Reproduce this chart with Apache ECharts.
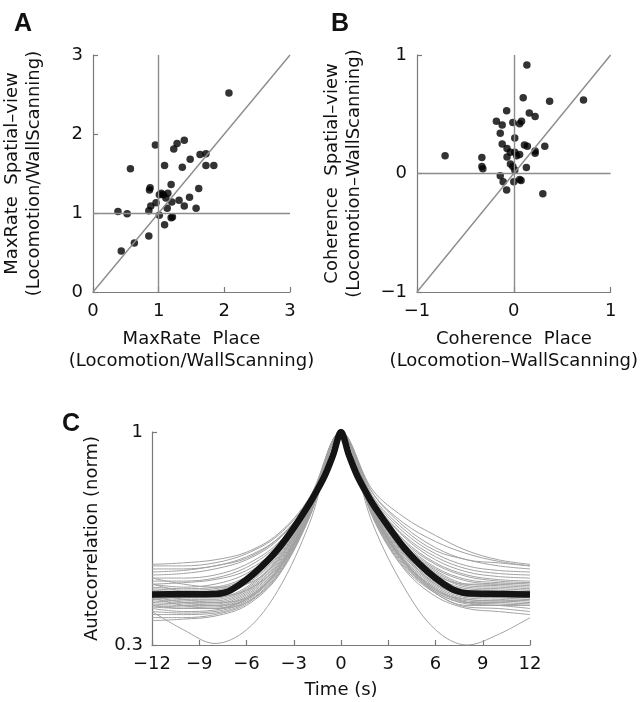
<!DOCTYPE html>
<html>
<head>
<meta charset="utf-8">
<script src="https://cdn.jsdelivr.net/npm/echarts@6/dist/echarts.min.js"></script>
<style>
html, body { margin: 0; padding: 0; background: #fff; }
#main { width: 640px; height: 702px; }
</style>
</head>
<body>
<div id="main"></div>
<script>
// panel A: max rate, place (x) vs spatial-view (y)
var rateA = [
  [2.07, 2.52], [0.95, 1.86], [1.28, 1.88], [1.39, 1.92], [1.23, 1.81],
  [0.57, 1.56], [1.09, 1.60], [1.36, 1.58], [1.48, 1.68], [1.63, 1.74],
  [1.72, 1.75], [1.72, 1.60], [1.84, 1.60], [1.19, 1.36], [0.87, 1.32],
  [0.86, 1.29], [1.61, 1.31], [1.01, 1.23], [1.07, 1.23], [1.14, 1.25],
  [1.11, 1.19], [1.20, 1.14], [1.31, 1.16], [1.47, 1.20], [0.96, 1.13],
  [0.88, 1.09], [0.85, 1.03], [1.13, 1.06], [1.39, 1.09], [1.57, 1.06],
  [0.38, 1.02], [0.52, 0.99], [1.01, 0.97], [1.19, 0.94], [1.21, 0.95],
  [1.09, 0.85], [0.85, 0.71], [0.63, 0.62], [0.43, 0.52], [1.04, 1.25]
];
// panel B: coherence, place (x) vs spatial-view (y)
var cohB = [
  [0.135, 0.915], [0.097, 0.64], [0.37, 0.61], [0.72, 0.62], [-0.074, 0.53],
  [0.16, 0.51], [0.22, 0.48], [-0.18, 0.44], [-0.12, 0.41], [-0.01, 0.43],
  [0.06, 0.42], [0.08, 0.44], [-0.14, 0.34], [0.01, 0.30], [-0.12, 0.25],
  [0.11, 0.24], [0.14, 0.23], [0.32, 0.23], [0.22, 0.19], [0.22, 0.17],
  [-0.07, 0.21], [-0.035, 0.18], [0.01, 0.18], [0.06, 0.16], [0.03, 0.15],
  [-0.07, 0.14], [-0.71, 0.15], [-0.33, 0.135], [-0.33, 0.06], [-0.32, 0.04],
  [-0.035, 0.08], [-0.01, 0.06], [0.13, 0.05], [-0.14, -0.02], [-0.11, -0.07],
  [0.00, -0.07], [0.06, -0.05], [0.075, -0.06], [-0.074, -0.14], [0.30, -0.17],
  [0.01, 0.03]
];
// panel C: autocorrelation curves
var lagBlack = [-12, -10, -8, -7.5, -7, -6, -5, -4, -3, -2, -1.5, -1, -0.5, 0,
  0.5, 1, 1.5, 2, 3, 4, 5, 6, 7, 7.5, 8, 10, 12];
var acBlack = [0.466, 0.467, 0.468, 0.471, 0.48, 0.515, 0.56, 0.615, 0.685, 0.765, 0.81, 0.86, 0.925, 1,
  0.925, 0.86, 0.81, 0.765, 0.69, 0.62, 0.565, 0.52, 0.485, 0.475, 0.47, 0.468, 0.466];
var lagGray = [-12, -10, -8, -6, -4, -2, 0, 2, 4, 6, 8, 10, 12];
var acGray = [
  [0.56, 0.56, 0.57, 0.60, 0.66, 0.78, 1, 0.80, 0.69, 0.62, 0.58, 0.57, 0.56],
  [0.55, 0.55, 0.56, 0.59, 0.65, 0.77, 1, 0.79, 0.68, 0.61, 0.58, 0.56, 0.55],
  [0.53, 0.535, 0.55, 0.58, 0.645, 0.775, 1, 0.785, 0.67, 0.60, 0.56, 0.545, 0.54],
  [0.52, 0.52, 0.53, 0.565, 0.635, 0.77, 1, 0.78, 0.66, 0.59, 0.55, 0.535, 0.53],
  [0.51, 0.51, 0.52, 0.555, 0.63, 0.77, 1, 0.775, 0.655, 0.58, 0.54, 0.525, 0.52],
  [0.50, 0.505, 0.515, 0.545, 0.62, 0.765, 1, 0.77, 0.645, 0.57, 0.53, 0.515, 0.51],
  [0.50, 0.49, 0.50, 0.535, 0.615, 0.765, 1, 0.77, 0.64, 0.565, 0.525, 0.51, 0.505],
  [0.49, 0.485, 0.49, 0.525, 0.61, 0.76, 1, 0.765, 0.635, 0.555, 0.515, 0.505, 0.50],
  [0.485, 0.48, 0.485, 0.52, 0.605, 0.76, 1, 0.76, 0.63, 0.55, 0.51, 0.50, 0.495],
  [0.48, 0.475, 0.48, 0.515, 0.60, 0.755, 1, 0.76, 0.625, 0.545, 0.50, 0.495, 0.49],
  [0.475, 0.47, 0.47, 0.505, 0.595, 0.755, 1, 0.755, 0.62, 0.54, 0.495, 0.49, 0.485],
  [0.47, 0.46, 0.465, 0.50, 0.59, 0.75, 1, 0.755, 0.615, 0.535, 0.49, 0.485, 0.48],
  [0.46, 0.455, 0.455, 0.49, 0.585, 0.75, 1, 0.75, 0.61, 0.525, 0.485, 0.48, 0.475],
  [0.455, 0.45, 0.45, 0.485, 0.58, 0.745, 1, 0.75, 0.605, 0.52, 0.48, 0.475, 0.47],
  [0.45, 0.445, 0.445, 0.48, 0.575, 0.745, 1, 0.745, 0.60, 0.515, 0.475, 0.47, 0.465],
  [0.445, 0.44, 0.44, 0.475, 0.57, 0.74, 1, 0.745, 0.595, 0.51, 0.47, 0.465, 0.46],
  [0.44, 0.435, 0.435, 0.47, 0.565, 0.74, 1, 0.74, 0.59, 0.505, 0.465, 0.46, 0.455],
  [0.435, 0.43, 0.43, 0.465, 0.56, 0.735, 1, 0.74, 0.585, 0.50, 0.46, 0.455, 0.45],
  [0.43, 0.425, 0.425, 0.46, 0.555, 0.735, 1, 0.735, 0.58, 0.495, 0.455, 0.45, 0.445],
  [0.425, 0.42, 0.42, 0.455, 0.55, 0.73, 1, 0.735, 0.575, 0.49, 0.45, 0.445, 0.44],
  [0.42, 0.41, 0.415, 0.45, 0.545, 0.73, 1, 0.73, 0.57, 0.485, 0.445, 0.44, 0.435],
  [0.41, 0.405, 0.41, 0.445, 0.54, 0.725, 1, 0.73, 0.565, 0.48, 0.44, 0.435, 0.43],
  [0.40, 0.40, 0.405, 0.44, 0.535, 0.725, 1, 0.725, 0.56, 0.475, 0.435, 0.43, 0.42],
  [0.39, 0.39, 0.40, 0.435, 0.53, 0.72, 1, 0.725, 0.555, 0.47, 0.425, 0.42, 0.41],
  [0.38, 0.385, 0.395, 0.43, 0.525, 0.72, 1, 0.72, 0.55, 0.46, 0.42, 0.41, 0.40],
  [0.41, 0.35, 0.305, 0.35, 0.48, 0.70, 1, 0.70, 0.49, 0.35, 0.30, 0.335, 0.39],
  [0.455, 0.43, 0.42, 0.44, 0.53, 0.73, 1, 0.74, 0.57, 0.47, 0.43, 0.43, 0.44],
  [0.46, 0.44, 0.43, 0.45, 0.545, 0.735, 1, 0.75, 0.58, 0.48, 0.45, 0.445, 0.45],
  [0.50, 0.475, 0.46, 0.48, 0.56, 0.74, 1, 0.76, 0.60, 0.50, 0.47, 0.47, 0.48],
  [0.47, 0.45, 0.44, 0.455, 0.55, 0.735, 1, 0.74, 0.575, 0.475, 0.44, 0.44, 0.45],
  [0.52, 0.50, 0.49, 0.50, 0.58, 0.75, 1, 0.77, 0.625, 0.53, 0.50, 0.50, 0.505],
  [0.54, 0.545, 0.56, 0.585, 0.65, 0.775, 1, 0.80, 0.70, 0.64, 0.60, 0.575, 0.56],
  [0.565, 0.57, 0.58, 0.605, 0.665, 0.785, 1, 0.81, 0.72, 0.66, 0.61, 0.58, 0.565],
  [0.43, 0.42, 0.42, 0.45, 0.545, 0.73, 1, 0.735, 0.575, 0.485, 0.44, 0.43, 0.43]
];

var FONT = 'DejaVu Sans';
var AXIS_GREY = '#7a7a7a';
var REF_GREY = '#8c8c8c';

function minus(v) { return String(v).replace('-', '\u2212'); }
function zip(xs, ys) { return xs.map(function (x, i) { return [x, ys[i]]; }); }

function axisStyle(o) {
  var base = {
    type: 'value',
    splitLine: { show: false },
    axisLine: { show: true, onZero: false, lineStyle: { color: AXIS_GREY, width: 1.2 } },
    axisTick: { show: true, inside: true, length: 5, lineStyle: { color: AXIS_GREY, width: 1.2 } },
    axisLabel: { color: '#111', fontFamily: FONT, fontSize: 18, margin: 10, formatter: minus },
    nameLocation: 'middle',
    nameTextStyle: { color: '#111', fontFamily: FONT, fontSize: 18, lineHeight: 22 }
  };
  return Object.assign(base, o);
}

var myChart = echarts.init(document.getElementById('main'));
var series = [];

// reference lines for A and B
series.push({
  type: 'line', xAxisIndex: 0, yAxisIndex: 0, data: [], z: 1, silent: true,
  markLine: {
    silent: true, symbol: 'none', animation: false,
    label: { show: false },
    lineStyle: { color: REF_GREY, width: 1.4, type: 'solid' },
    data: [{ xAxis: 1 }, { yAxis: 1 }, [{ coord: [0, 0] }, { coord: [3, 3] }]]
  }
});
series.push({
  type: 'scatter', xAxisIndex: 0, yAxisIndex: 0, data: rateA, z: 3,
  symbolSize: 7.5, itemStyle: { color: '#000' }
});
series.push({
  type: 'line', xAxisIndex: 1, yAxisIndex: 1, data: [], z: 1, silent: true,
  markLine: {
    silent: true, symbol: 'none', animation: false,
    label: { show: false },
    lineStyle: { color: REF_GREY, width: 1.4, type: 'solid' },
    data: [{ xAxis: 0 }, { yAxis: 0 }, [{ coord: [-1, -1] }, { coord: [1, 1] }]]
  }
});
series.push({
  type: 'scatter', xAxisIndex: 1, yAxisIndex: 1, data: cohB, z: 3,
  symbolSize: 7.5, itemStyle: { color: '#000' }
});

acGray.forEach(function (row) {
  series.push({
    type: 'line', xAxisIndex: 2, yAxisIndex: 2, data: zip(lagGray, row),
    showSymbol: false, smooth: 0.35, silent: true, z: 2,
    lineStyle: { color: '#a2a2a2', width: 1 }
  });
});
series.push({
  type: 'line', xAxisIndex: 2, yAxisIndex: 2, data: zip(lagBlack, acBlack),
  showSymbol: false, smooth: 0.3, silent: true, z: 4,
  lineStyle: { color: '#141414', width: 6.5 }
});

var option = {
  animation: false,
  backgroundColor: '#fff',
  grid: [
    { left: 83, top: 55, width: 207, height: 237 },
    { left: 417, top: 55, width: 207, height: 237 },
    { left: 152, top: 432, width: 378, height: 213 }
  ],
  xAxis: [
    axisStyle({ gridIndex: 0, min: 0, max: 3, interval: 1, name: 'MaxRate  Place\n(Locomotion/WallScanning)', nameGap: 36 }),
    axisStyle({ gridIndex: 1, min: -1, max: 1, interval: 1, name: 'Coherence  Place\n(Locomotion\u2013WallScanning)', nameGap: 36 }),
    axisStyle({ gridIndex: 2, min: -12, max: 12, interval: 3, name: 'Time (s)', nameGap: 34 })
  ],
  yAxis: [
    axisStyle({ gridIndex: 0, min: 0, max: 3, interval: 1, name: 'MaxRate  Spatial\u2013view\n(Locomotion/WallScanning)', nameGap: 48 }),
    axisStyle({ gridIndex: 1, min: -1, max: 1, interval: 1, name: 'Coherence  Spatial\u2013view\n(Locomotion\u2013WallScanning)', nameGap: 52 }),
    axisStyle({
      gridIndex: 2, min: 0.3, max: 1, name: 'Autocorrelation (norm)', nameGap: 34,
      axisTick: { show: true, inside: true, length: 5, customValues: [0.3, 1], lineStyle: { color: AXIS_GREY, width: 1.2 } },
      axisLabel: { color: '#111', fontFamily: FONT, fontSize: 18, margin: 9, customValues: [0.3, 1] }
    })
  ],
  graphic: [
    { type: 'text', left: 14, top: 12, style: { text: 'A', font: 'bold 25px "Liberation Sans"', fill: '#111' } },
    { type: 'text', left: 331, top: 12, style: { text: 'B', font: 'bold 25px "Liberation Sans"', fill: '#111' } },
    { type: 'text', left: 62, top: 412, style: { text: 'C', font: 'bold 25px "Liberation Sans"', fill: '#111' } }
  ],
  series: series
};
myChart.setOption(option);
</script>
</body>
</html>
